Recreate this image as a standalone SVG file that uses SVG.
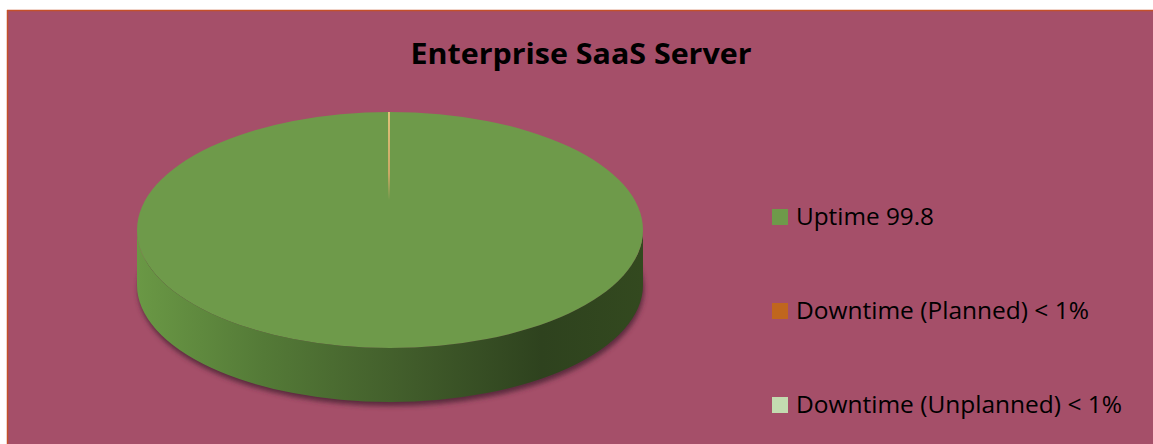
<svg xmlns="http://www.w3.org/2000/svg" width="1153" height="444" viewBox="0 0 1153 444">
  <style>
    .title { font-family: "Open Sans", "Liberation Sans", sans-serif; font-weight: bold; font-size: 29px; fill: #000; }
    .legend { font-family: "Open Sans", "Liberation Sans", sans-serif; font-size: 23px; fill: #000; }
  </style>
  <defs>
    <linearGradient id="sideGrad" x1="137" y1="0" x2="643" y2="0" gradientUnits="userSpaceOnUse">
      <stop offset="0" stop-color="#6A9845"/>
      <stop offset="0.25" stop-color="#547A37"/>
      <stop offset="0.55" stop-color="#405B2A"/>
      <stop offset="0.8" stop-color="#2E421E"/>
      <stop offset="1" stop-color="#33491F"/>
    </linearGradient>
    <filter id="soft" x="-10%" y="-30%" width="120%" height="160%">
      <feGaussianBlur stdDeviation="2.5"/>
    </filter>
    <linearGradient id="sliceGrad" x1="0" y1="112" x2="0" y2="200" gradientUnits="userSpaceOnUse">
      <stop offset="0" stop-color="#E0C27A"/>
      <stop offset="0.7" stop-color="#C9A865"/>
      <stop offset="1" stop-color="#6E9A4A"/>
    </linearGradient>
  </defs>

  <!-- chart area -->
  <g id="background">
    <rect x="7" y="10" width="1146" height="434" fill="#A54F69"/>
    <line x1="7.5" y1="10" x2="7.5" y2="444" stroke="#C4502A" stroke-width="1.5"/>
    <line x1="7" y1="10.5" x2="1153" y2="10.5" stroke="#C4502A" stroke-width="1.5"/>
  </g>

  <g id="title">
    <text class="title" x="581" y="64" text-anchor="middle" textLength="341" lengthAdjust="spacingAndGlyphs">Enterprise SaaS Server</text>
  </g>

  <!-- 3D pie: single dominant slice -->
  <g id="pie">
    <ellipse cx="391" cy="289" rx="253" ry="117" fill="#5A2A3C" filter="url(#soft)"/>
    <path d="M137,230 L137,285 A253,117 0 0 0 643,285 L643,230 A253,118 0 0 1 137,230 Z" fill="url(#sideGrad)"/>
    <ellipse cx="390" cy="230" rx="253" ry="118" fill="#6E9A4A"/>
    <line x1="389" y1="112" x2="389" y2="200" stroke="url(#sliceGrad)" stroke-width="2"/>
  </g>

  <g id="legend">
    <g id="legend-uptime">
      <rect x="772" y="209" width="16" height="16" fill="#6E9A4A"/>
      <text class="legend" x="796" y="225" textLength="138" lengthAdjust="spacingAndGlyphs">Uptime 99.8</text>
    </g>
    <g id="legend-planned">
      <rect x="772" y="303" width="16" height="16" fill="#C0661E"/>
      <text class="legend" x="796" y="319" textLength="293" lengthAdjust="spacingAndGlyphs">Downtime (Planned) &lt; 1%</text>
    </g>
    <g id="legend-unplanned">
      <rect x="772" y="397" width="16" height="16" fill="#C3DBB0"/>
      <text class="legend" x="796" y="413" textLength="326" lengthAdjust="spacingAndGlyphs">Downtime (Unplanned) &lt; 1%</text>
    </g>
  </g>
</svg>
